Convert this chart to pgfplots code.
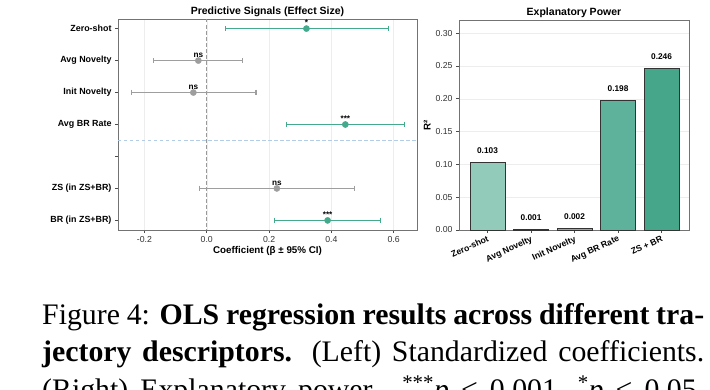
\documentclass[border=0pt]{standalone}
\usepackage{pgfplots}
\pgfplotsset{compat=1.18}
\usepackage{fontspec}
\setmainfont{Liberation Sans}
\newfontfamily\capfont{Liberation Serif}
\definecolor{tealc}{HTML}{45A98B}
\definecolor{grayc}{HTML}{9E9E9E}
\definecolor{hline}{HTML}{B4CDE6}
\definecolor{barA}{HTML}{93CBBB}
\definecolor{barB}{HTML}{82C3B0}
\definecolor{barC}{HTML}{70BBA5}
\definecolor{barD}{HTML}{5EB29B}
\definecolor{barE}{HTML}{45A68A}
\begin{document}
\begin{tikzpicture}
\useasboundingbox (0pt,0pt) rectangle (710pt,-390pt);

% ---------------- Left panel ----------------
\begin{axis}[
  at={(118pt,-19pt)}, anchor=north west,
  width=299pt, height=211pt, scale only axis,
  xmin=-0.285, xmax=0.675, ymin=-0.3, ymax=6.3, y dir=reverse,
  xtick={-0.2,0,0.2,0.4,0.6}, xticklabels={-0.2,0.0,0.2,0.4,0.6},
  ytick={0,1,2,3,4,5,6},
  yticklabels={Zero-shot,Avg Novelty,Init Novelty,Avg BR Rate,,ZS (in ZS+BR),BR (in ZS+BR)},
  yticklabel style={font=\fontsize{8.9}{10}\selectfont\bfseries},
  xticklabel style={font=\fontsize{8.7}{10}\selectfont, text=black!80},
  tick align=outside, tick pos=left, major tick length=3pt,
  tick style={draw=black!70, line width=0.6pt},
  axis line style={draw=black!55, line width=0.8pt},
  xmajorgrids, grid style={draw=black!7, line width=0.4pt},
  title={Predictive Signals (Effect Size)},
  title style={font=\fontsize{10.5}{12}\selectfont\bfseries, yshift=-7pt},
  xlabel={Coefficient (β ± 95\% CI)},
  xlabel style={font=\fontsize{9.8}{11}\selectfont\bfseries, yshift=3pt},
  /pgf/number format/assume math mode=true,
  clip=false,
  ci/.style={line width=1.4pt, mark=|, mark size=2.8pt, mark options={line width=1.2pt}},
]
\draw[dash pattern=on 3.5pt off 2.5pt, draw=black!40, line width=0.7pt] (axis cs:0,-0.3) -- (axis cs:0,6.3);
\draw[dash pattern=on 3.5pt off 2.5pt, draw=hline, line width=0.7pt] (axis cs:-0.285,3.5) -- (axis cs:0.675,3.5);
% 95% confidence intervals (low, high)
\addplot[ci, color=tealc] coordinates {(0.060,0) (0.584,0)};
\addplot[ci, color=grayc] coordinates {(-0.170,1) (0.116,1)};
\addplot[ci, color=grayc] coordinates {(-0.241,2) (0.158,2)};
\addplot[ci, color=tealc] coordinates {(0.255,3) (0.635,3)};
\addplot[ci, color=grayc] coordinates {(-0.024,5) (0.475,5)};
\addplot[ci, color=tealc] coordinates {(0.217,6) (0.559,6)};
% point estimates
\addplot[only marks, mark=*, mark size=3.1pt, color=tealc, mark options={fill=tealc, draw=tealc, line width=0.4pt}]
coordinates {(0.320,0) (0.445,3) (0.388,6)};
\addplot[only marks, mark=*, mark size=3.1pt, color=grayc, mark options={fill=grayc, draw=grayc, line width=0.4pt}]
coordinates {(-0.027,1) (-0.043,2) (0.225,5)};
% significance labels
\addplot[draw=none, mark=none, nodes near coords, point meta=explicit symbolic,
  nodes near coords style={font=\fontsize{8.2}{9}\selectfont\bfseries, anchor=south, inner sep=0pt, yshift=2.5pt}]
coordinates {
  (0.320,0) [*]
  (-0.027,1) [ns]
  (-0.043,2) [ns]
  (0.445,3) [***]
  (0.225,5) [ns]
  (0.388,6) [***]
};
\end{axis}

% ---------------- Right panel ----------------
\begin{axis}[
  at={(459pt,-20pt)}, anchor=north west,
  width=230pt, height=210pt, scale only axis,
  xmin=-0.655, xmax=4.63, ymin=0, ymax=0.32,
  xtick={0,1,2,3,4},
  xticklabels={Zero-shot,Avg Novelty,Init Novelty,Avg BR Rate,ZS + BR},
  xticklabel style={font=\fontsize{8.7}{10}\selectfont\bfseries, rotate=25, anchor=north east, inner sep=1.5pt},
  ytick={0,0.05,0.1,0.15,0.2,0.25,0.3},
  yticklabel style={font=\fontsize{8.7}{10}\selectfont, text=black!80, /pgf/number format/.cd, fixed, fixed zerofill, precision=2},
  tick align=outside, tick pos=left, major tick length=3pt,
  tick style={draw=black!70, line width=0.6pt},
  axis line style={draw=black!55, line width=0.8pt},
  ymajorgrids, grid style={draw=black!7, line width=0.4pt},
  title={Explanatory Power},
  title style={font=\fontsize{10.5}{12}\selectfont\bfseries, yshift=-7pt},
  ylabel={R²},
  ylabel style={font=\fontsize{9.8}{11}\selectfont\bfseries, yshift=-2pt},
  /pgf/number format/assume math mode=true,
  clip=false,
  every node near coord/.style={font=\fontsize{8.3}{9}\selectfont\bfseries, anchor=south, yshift=5pt},
]
\addplot[ybar, bar width=0.8, bar shift=0pt, fill=barA, draw=black!80, line width=0.8pt,
  nodes near coords, point meta=explicit symbolic] coordinates {(0,0.103)[0.103]};
\addplot[ybar, bar width=0.8, bar shift=0pt, fill=barB, draw=black!80, line width=0.8pt,
  nodes near coords, point meta=explicit symbolic] coordinates {(1,0.001)[0.001]};
\addplot[ybar, bar width=0.8, bar shift=0pt, fill=barC, draw=black!80, line width=0.8pt,
  nodes near coords, point meta=explicit symbolic] coordinates {(2,0.002)[0.002]};
\addplot[ybar, bar width=0.8, bar shift=0pt, fill=barD, draw=black!80, line width=0.8pt,
  nodes near coords, point meta=explicit symbolic] coordinates {(3,0.198)[0.198]};
\addplot[ybar, bar width=0.8, bar shift=0pt, fill=barE, draw=black!80, line width=0.8pt,
  nodes near coords, point meta=explicit symbolic] coordinates {(4,0.246)[0.246]};
\end{axis}

% ---------------- Caption ----------------
\begin{scope}[every node/.style={anchor=base west, inner sep=0pt, font=\capfont\fontsize{29.8}{36}\selectfont}]
\node at (42pt,-324pt) {\makebox[662pt][s]{Figure 4: \textbf{OLS regression results across different tra-}}};
\node at (42pt,-361pt) {\makebox[662pt][s]{\textbf{jectory descriptors.} (Left) Standardized coefficients.}};
\node at (42pt,-399pt) {\makebox[662pt][s]{(Right) Explanatory power. \textsuperscript{***}\textit{p} < 0.001, \textsuperscript{*}\textit{p} < 0.05.}};
\end{scope}
\end{tikzpicture}
\end{document}
